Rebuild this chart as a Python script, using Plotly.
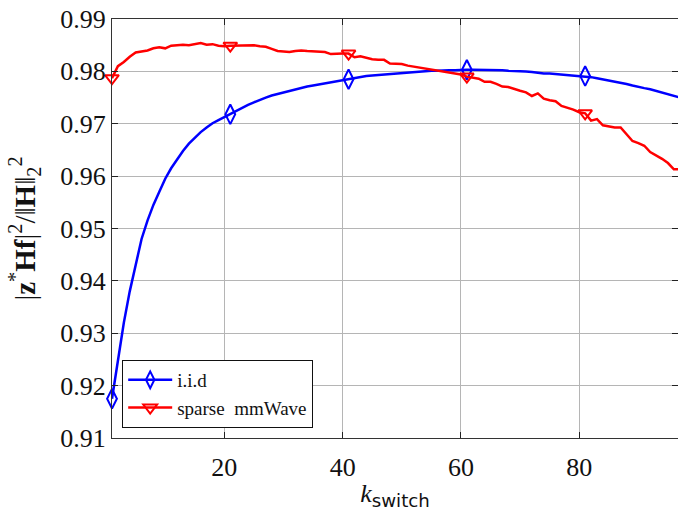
import plotly.graph_objects as go

k_switch = list(range(1, 98))

iid = [
    0.9175, 0.9250, 0.9320, 0.9380, 0.9430, 0.9480, 0.9515, 0.9545, 0.9570, 0.9595,
    0.9615, 0.9632, 0.9648, 0.9662, 0.9674, 0.9684, 0.9693, 0.9701, 0.9707, 0.9713,
    0.9718, 0.9724, 0.9730, 0.9736, 0.9741, 0.9746, 0.9750, 0.9754, 0.9757, 0.9760,
    0.9763, 0.9765, 0.9768, 0.9771, 0.9773, 0.9775, 0.9777, 0.9779, 0.9781, 0.9783,
    0.9785, 0.9788, 0.9790, 0.9791, 0.9792, 0.9793, 0.9794, 0.9795, 0.9796, 0.9797,
    0.9798, 0.9799, 0.9799, 0.9800, 0.9801, 0.9801, 0.9802, 0.9802, 0.9802, 0.9803,
    0.9803, 0.9803, 0.9803, 0.9803, 0.9803, 0.9802, 0.9802, 0.9801, 0.9801, 0.9801,
    0.9800, 0.9799, 0.9797, 0.9796, 0.9796, 0.9795, 0.9795, 0.9794, 0.9793, 0.9792,
    0.9791, 0.9789, 0.9787, 0.9785, 0.9783, 0.9781, 0.9779, 0.9776, 0.9773, 0.9770,
    0.9768, 0.9766, 0.9763, 0.9760, 0.9756, 0.9753, 0.9750,
]

sparse_mmwave = [
    0.9787, 0.9810, 0.9818, 0.9828, 0.9836, 0.9838, 0.9840, 0.9844, 0.9846, 0.9844,
    0.9849, 0.9850, 0.9851, 0.9850, 0.9852, 0.9854, 0.9851, 0.9852, 0.9849, 0.9848,
    0.9849, 0.9849, 0.9850, 0.9849, 0.9850, 0.9848, 0.9847, 0.9843, 0.9839, 0.9838,
    0.9837, 0.9839, 0.9840, 0.9839, 0.9838, 0.9838, 0.9837, 0.9833, 0.9834, 0.9834,
    0.9834, 0.9827, 0.9829, 0.9826, 0.9823, 0.9822, 0.9822, 0.9815, 0.9815, 0.9814,
    0.9811, 0.9809, 0.9808, 0.9806, 0.9803, 0.9801, 0.9799, 0.9797, 0.9796, 0.9794,
    0.9790, 0.9788, 0.9786, 0.9780, 0.9780, 0.9776, 0.9771, 0.9770, 0.9766, 0.9763,
    0.9760, 0.9753, 0.9758, 0.9748, 0.9745, 0.9743, 0.9734, 0.9731, 0.9727, 0.9722,
    0.9720, 0.9706, 0.9709, 0.9697, 0.9695, 0.9693, 0.9693, 0.9680, 0.9667, 0.9663,
    0.9658, 0.9646, 0.9640, 0.9633, 0.9625, 0.9613, 0.9613,
]

x_ticks = [20, 40, 60, 80]
y_ticks = [0.91, 0.92, 0.93, 0.94, 0.95, 0.96, 0.97, 0.98, 0.99]
mark_every = 20

series = [
    ("i.i.d", iid, "#0000ff", "diamond-tall-open", 14),
    ("sparse  mmWave", sparse_mmwave, "#ff0000", "triangle-down-open", 12),
]

SERIF = "Liberation Serif"

fig = go.Figure()
for name, ys, color, sym, msz in series:
    fig.add_trace(go.Scatter(
        x=k_switch, y=ys, mode="lines", line=dict(color=color, width=2.5),
        showlegend=False, legendgroup=name, hoverinfo="skip"))
    fig.add_trace(go.Scatter(
        x=k_switch[::mark_every], y=ys[::mark_every], mode="markers",
        marker=dict(symbol=sym, size=msz, color=color, line=dict(color=color, width=2)),
        showlegend=False, legendgroup=name, cliponaxis=False))
    fig.add_trace(go.Scatter(
        x=[None], y=[None], mode="lines+markers", name=name, legendgroup=name,
        line=dict(color=color, width=2.5),
        marker=dict(symbol=sym, size=12, color=color, line=dict(color=color, width=2))))

axis_common = dict(
    showline=True, linecolor="#333333", linewidth=1.2, mirror="ticks",
    ticks="inside", ticklen=6, tickcolor="#222222", tickwidth=1.2,
    showgrid=True, gridcolor="#b5b5b5", gridwidth=1, zeroline=False,
    automargin=False, ticklabeloverflow="allow",
    tickfont=dict(family=SERIF, size=26, color="#111111"),
)

fig.update_xaxes(
    range=[1, 96.7], tickvals=x_ticks, ticktext=[str(v) for v in x_ticks],
    ticklabelstandoff=6,
    title=dict(text="<i>k</i><sub><span style=\"font-family:DejaVu Sans\">switch</span></sub>",
               font=dict(family=SERIF, size=26, color="#111111"), standoff=2),
    **axis_common)
fig.update_yaxes(
    range=[0.91, 0.99], tickvals=y_ticks, ticktext=[f"{v:.2f}" for v in y_ticks],
    title=dict(text="|<b>z</b><sup>*</sup><b>Hf</b>|<sup>2</sup>/‖<b>H</b>‖<sub>2</sub><sup>2</sup>",
               font=dict(family=SERIF, size=29, color="#111111"), standoff=16),
    **axis_common)

fig.update_layout(
    width=678, height=513,
    margin=dict(l=112, r=0, t=19, b=75),
    plot_bgcolor="white", paper_bgcolor="white",
    font=dict(family=SERIF, color="#111111"),
    legend=dict(x=0.018, y=0.024, xanchor="left", yanchor="bottom",
                bgcolor="white", bordercolor="#111111", borderwidth=1,
                font=dict(family=SERIF, size=19, color="#111111"),
                tracegroupgap=0, itemwidth=44),
    showlegend=True,
)

# remove the browser's default 8px body margin so the figure fills the window
fig.write_html("out.html", config={"displayModeBar": False},
               post_script="document.body.style.margin='0';")
